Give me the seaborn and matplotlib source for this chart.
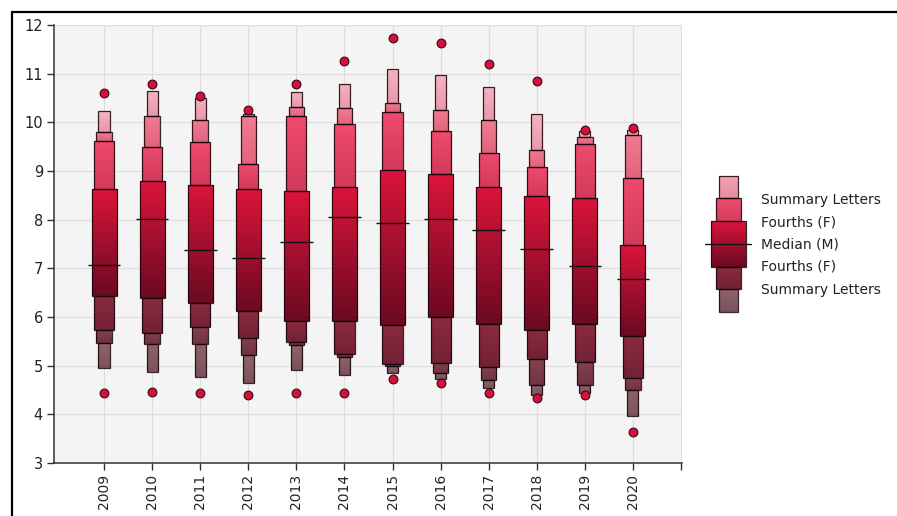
import numpy as np
import pandas as pd
import matplotlib
matplotlib.use("Agg")
import matplotlib.pyplot as plt
import seaborn as sns
from matplotlib.colors import LinearSegmentedColormap
from matplotlib.lines import Line2D

# Letter values per year (upper summary letter -> lower summary letter)
years = ["2009", "2010", "2011", "2012", "2013", "2014",
         "2015", "2016", "2017", "2018", "2019", "2020"]
c_hi = [10.24, 10.64, 10.51, 10.18, 10.62, 10.79, 11.10, 10.97, 10.73, 10.17, 9.82, 9.84]
d_hi = [9.80, 10.14, 10.05, 10.12, 10.31, 10.29, 10.40, 10.25, 10.04, 9.43, 9.69, 9.75]
e_hi = [9.62, 9.49, 9.60, 9.14, 10.14, 9.97, 10.22, 9.82, 9.38, 9.08, 9.56, 8.85]
f_hi = [8.62, 8.80, 8.72, 8.62, 8.58, 8.67, 9.03, 8.94, 8.67, 8.48, 8.45, 7.47]
median = [7.06, 8.01, 7.37, 7.21, 7.54, 8.05, 7.93, 8.01, 7.79, 7.40, 7.04, 6.78]
f_lo = [6.44, 6.40, 6.28, 6.12, 5.91, 5.91, 5.84, 6.01, 5.86, 5.73, 5.86, 5.60]
e_lo = [5.73, 5.68, 5.80, 5.56, 5.49, 5.25, 5.03, 5.05, 4.98, 5.13, 5.08, 4.74]
d_lo = [5.46, 5.44, 5.44, 5.21, 5.42, 5.18, 4.99, 4.84, 4.71, 4.60, 4.60, 4.51]
c_lo = [4.96, 4.86, 4.76, 4.65, 4.91, 4.80, 4.84, 4.72, 4.54, 4.40, 4.43, 3.97]
outlier_hi = [10.60, 10.78, 10.54, 10.25, 10.78, 11.27, 11.73, 11.64, 11.20, 10.85, 9.84, 9.88]
outlier_lo = [4.44, 4.46, 4.44, 4.40, 4.44, 4.44, 4.73, 4.65, 4.44, 4.33, 4.40, 3.63]

legend_labels = ["Summary Letters", "Fourths (F)", "Median (M)",
                 "Fourths (F)", "Summary Letters"]

sns.set_theme(style="whitegrid", rc={
    "axes.facecolor": "#f4f4f4",
    "grid.color": "#dedede",
    "grid.linewidth": 0.9,
    "axes.edgecolor": "#333333",
})
plt.rcParams["font.family"] = ["DejaVu Sans"]

W, H = 897, 516
fig = plt.figure(figsize=(W / 100, H / 100), dpi=100)
fig.patch.set_facecolor("white")
ax = fig.add_axes([54 / W, 1 - 463 / H, (682 - 54) / W, (463 - 25) / H])

x = np.arange(len(years))

# segment spec: (bottom values, top values, width, top colour, bottom colour)
segments = [
    (d_hi, c_hi, 0.23, "#f5b4c2", "#ea97a9"),
    (e_hi, d_hi, 0.32, "#f07c93", "#e2637d"),
    (f_hi, e_hi, 0.42, "#ef4b6d", "#d23a5b"),
    (f_lo, f_hi, 0.52, "#dc143c", "#6a0a20"),
    (e_lo, f_lo, 0.42, "#8c2a40", "#712233"),
    (d_lo, e_lo, 0.32, "#86404f", "#6f3444"),
    (c_lo, d_lo, 0.23, "#8f636c", "#7b525b"),
]

grad = np.linspace(1, 0, 256).reshape(-1, 1)


def gradient_bars(axis, xs, lo, hi, width, ctop, cbot):
    lo = np.asarray(lo)
    hi = np.asarray(hi)
    bars = axis.bar(xs, hi - lo, width=width, bottom=lo, facecolor="none",
                    edgecolor=(0.08, 0.02, 0.04, 0.85), linewidth=0.9, zorder=4)
    cmap = LinearSegmentedColormap.from_list("seg", [cbot, ctop])
    for b in bars:
        x0, y0 = b.get_x(), b.get_y()
        im = axis.imshow(grad, cmap=cmap, aspect="auto", interpolation="bicubic",
                         extent=[x0, x0 + b.get_width(), y0, y0 + b.get_height()],
                         zorder=3)
        im.set_clip_path(b)
    return bars


for lo, hi, wdt, ctop, cbot in segments:
    gradient_bars(ax, x, lo, hi, wdt, ctop, cbot)

# median lines
ax.hlines(median, x - 0.34, x + 0.34, color="#111111", linewidth=1.0, zorder=5)

# outliers
out_df = pd.DataFrame({
    "pos": np.concatenate([x, x]),
    "value": outlier_hi + outlier_lo,
})
sns.scatterplot(data=out_df, x="pos", y="value", ax=ax, s=40, color="#d5103a",
                edgecolor="#3a0812", linewidth=0.8, zorder=6, legend=False)

ax.set_xlim(-1.04, 12.02)
ax.set_ylim(3, 12)
ax.set_xticks(list(x) + [12])
ax.set_xticklabels(years + [""], rotation=90, fontsize=10, color="#222222")
ax.set_yticks(range(3, 13))
ax.set_yticklabels([str(v) for v in range(3, 13)], fontsize=10.5, color="#222222")
ax.set_xlabel("")
ax.set_ylabel("")
ax.tick_params(axis="both", which="both", direction="out", length=5, width=1,
               color="#333333", pad=3, bottom=True, left=True)
for side in ["top", "right"]:
    ax.spines[side].set_visible(False)
for side in ["left", "bottom"]:
    ax.spines[side].set_color("#333333")
    ax.spines[side].set_linewidth(1.1)
ax.grid(True, zorder=0)
ax.set_axisbelow(True)

# legend key drawn as a miniature letter-value box (pixel coordinates, y down)
lax = fig.add_axes([0, 0, 1, 1], facecolor="none")
lax.set_xlim(0, W)
lax.set_ylim(H, 0)
lax.axis("off")

legend_boxes = [
    (719, 738, 176, 198, "#f2a2b3", "#e58c9f"),
    (716, 741, 198, 221, "#ee4b6d", "#d63e5e"),
    (711, 746, 221, 267, "#dc143c", "#6a0a20"),
    (716, 741, 267, 289, "#8c2a40", "#712233"),
    (719, 738, 289, 312, "#8f636c", "#7b525b"),
]
for x0, x1, y0, y1, ctop, cbot in legend_boxes:
    gradient_bars(lax, [(x0 + x1) / 2], [y1], [y0], x1 - x0, ctop, cbot)
lax.plot([705, 751], [244, 244], color="#111111", linewidth=1.0, zorder=5)
for yy, lab in zip([200, 222, 245, 267, 290], legend_labels):
    lax.text(761, yy, lab, fontsize=10, color="#222222", va="center", ha="left")

# outer frame
fig.add_artist(Line2D([12 / W, 12 / W], [0, 1 - 12 / H], transform=fig.transFigure,
                      color="black", linewidth=1.6))
fig.add_artist(Line2D([12 / W, 1], [1 - 12 / H, 1 - 12 / H], transform=fig.transFigure,
                      color="black", linewidth=1.6))

fig.savefig("out.png", dpi=100, facecolor="white")
